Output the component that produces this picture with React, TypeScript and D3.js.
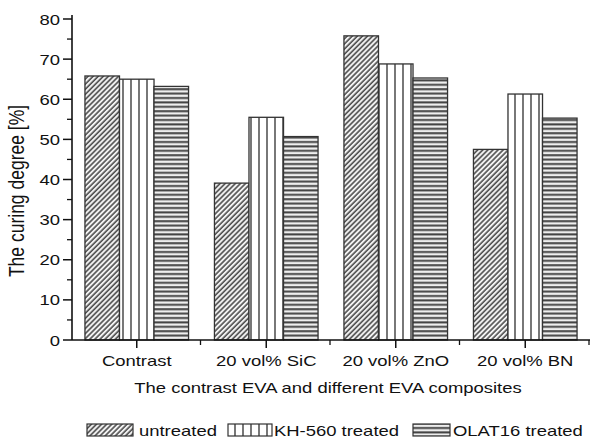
import React from "react";
import * as d3 from "d3";

const categories = ["Contrast", "20 vol% SiC", "20 vol% ZnO", "20 vol% BN"];
const seriesNames = ["untreated", "KH-560 treated", "OLAT16 treated"];
const untreated = [65.8, 39.1, 75.8, 47.5];
const kh560 = [65.0, 55.5, 68.8, 61.3];
const olat16 = [63.2, 50.7, 65.3, 55.3];
const yTicks = [0, 10, 20, 30, 40, 50, 60, 70, 80];

const W = 590;
const H = 443;
const SX = 1.23; // picture is a bit stretched across
const FONT = "'Liberation Sans', Arial, Helvetica, sans-serif";
const patterns = ["pDiag", "pVert", "pHorz"];

const Txt = ({ x, y, anchor = "start", size = 15, children }: any) => (
  <g transform={`translate(${x},${y}) scale(${SX},1)`}>
    <text textAnchor={anchor} fontSize={size} fontFamily={FONT} fill="#111">
      {children}
    </text>
  </g>
);

export default function App() {
  const x0 = 72;
  const x1 = 590;
  const yTop = 19;
  const yBase = 340;

  const x = d3.scaleBand().domain(categories).range([x0, x1]).paddingInner(0.2).paddingOuter(0.1);
  const band = d3.scaleBand<number>().domain([0, 1, 2]).range([0, x.bandwidth()]);
  const y = d3.scaleLinear().domain([0, 80]).range([yBase, yTop]);
  const step = (x1 - x0) / categories.length;
  const values = [untreated, kh560, olat16];
  const minor = d3.range(5, 80, 10);

  const legend = [
    { sx: 87, sw: 46, tx: 139 },
    { sx: 228, sw: 44, tx: 274 },
    { sx: 413, sw: 37, tx: 453 },
  ];

  return (
    <svg width={W} height={H} style={{ position: "absolute", left: 0, top: 0, background: "#fff" }}>
      <defs>
        <pattern id="pDiag" width={3.6} height={3.6} patternUnits="userSpaceOnUse" patternTransform="rotate(45)">
          <rect width={3.6} height={3.6} fill="#f2f2f2" />
          <line x1={1} y1={0} x2={1} y2={3.6} stroke="#444" strokeWidth={1.5} />
        </pattern>
        <pattern id="pVert" width={8} height={8} patternUnits="userSpaceOnUse" x={2}>
          <rect width={8} height={8} fill="#fff" />
          <line x1={1} y1={0} x2={1} y2={8} stroke="#555" strokeWidth={1.6} />
        </pattern>
        <pattern id="pHorz" width={4.4} height={4.4} patternUnits="userSpaceOnUse">
          <rect width={4.4} height={4.4} fill="#eee" />
          <line x1={0} y1={1.2} x2={4.4} y2={1.2} stroke="#444" strokeWidth={2} />
        </pattern>
      </defs>

      {categories.map((c, ci) =>
        values.map((vals, si) => (
          <rect
            key={c + si}
            x={(x(c) as number) + (band(si) as number)}
            y={y(vals[ci])}
            width={band.bandwidth()}
            height={yBase - y(vals[ci])}
            fill={`url(#${patterns[si]})`}
            stroke="#333"
            strokeWidth={1.3}
          />
        ))
      )}

      {/* y axis */}
      <line x1={x0} y1={yTop - 4} x2={x0} y2={yBase} stroke="#111" strokeWidth={1.6} />
      {yTicks.map((t) => (
        <g key={t}>
          <line x1={x0 - 9} x2={x0} y1={y(t)} y2={y(t)} stroke="#111" strokeWidth={1.5} />
          <Txt x={60} y={y(t) + 5.5} anchor="end">{t}</Txt>
        </g>
      ))}
      {minor.map((t) => (
        <line key={t} x1={x0 - 5} x2={x0} y1={y(t)} y2={y(t)} stroke="#111" strokeWidth={1.3} />
      ))}

      {/* x axis */}
      <line x1={x0} y1={yBase} x2={x1} y2={yBase} stroke="#111" strokeWidth={1.6} />
      {categories.map((c, i) => {
        const cx = (x(c) as number) + x.bandwidth() / 2;
        return (
          <g key={c}>
            <line x1={cx} x2={cx} y1={yBase} y2={yBase + 8} stroke="#111" strokeWidth={1.5} />
            <line x1={x0 + step * (i + 1) - 1} x2={x0 + step * (i + 1) - 1} y1={yBase} y2={yBase + 5} stroke="#111" strokeWidth={1.3} />
            <Txt x={cx} y={366} anchor="middle">{c}</Txt>
          </g>
        );
      })}

      <Txt x={(x0 + x1) / 2 - 3} y={393} anchor="middle">The contrast EVA and different EVA composites</Txt>
      <g transform={`translate(24,191) scale(${SX},1) rotate(-90)`}>
        <text textAnchor="middle" fontSize={17.5} fontFamily={FONT} fill="#111">The curing degree [%]</text>
      </g>

      {seriesNames.map((s, i) => (
        <g key={s}>
          <rect x={legend[i].sx} y={424} width={legend[i].sw} height={12} fill={`url(#${patterns[i]})`} stroke="#333" strokeWidth={1.2} />
          <Txt x={legend[i].tx} y={436}>{s}</Txt>
        </g>
      ))}
    </svg>
  );
}
